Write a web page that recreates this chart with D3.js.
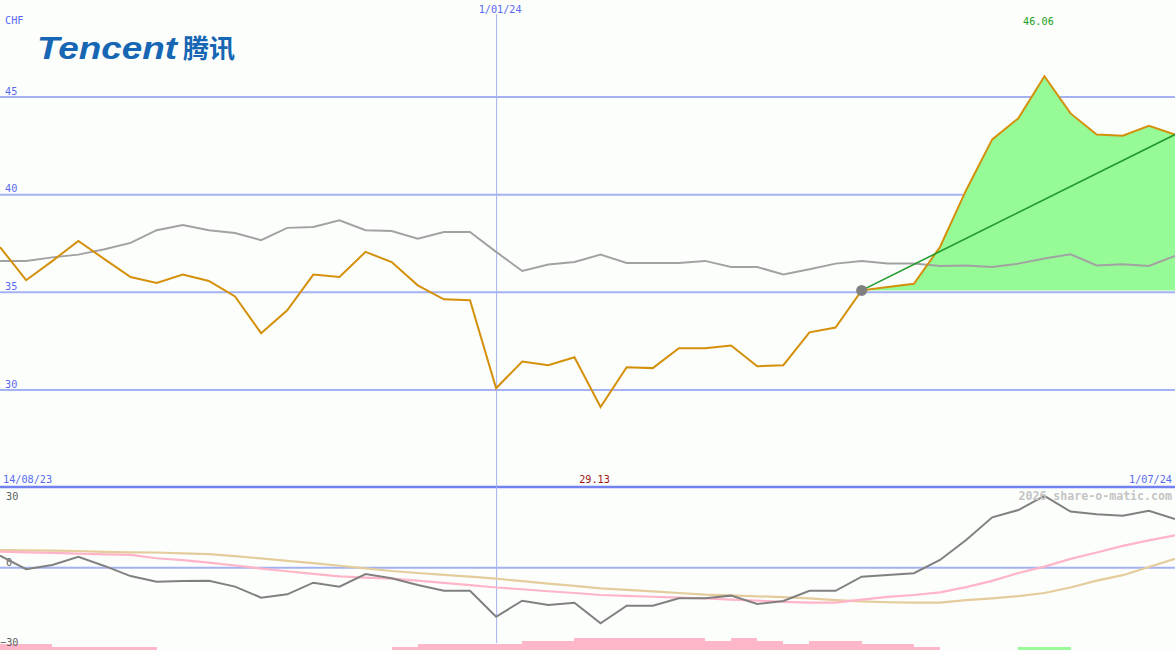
<!DOCTYPE html>
<html><head><meta charset="utf-8">
<script src="https://cdn.jsdelivr.net/npm/d3@7"></script>
<style>body{margin:0;background:#fcfefc;} svg{display:block}</style>
</head><body><svg id="c" width="1175" height="650"></svg>
<script>
// ---- data (weekly, 46 points from 14/08/23 to 1/07/24) ----
const startLabel = "14/08/23";
const endLabel = "1/07/24";
const markerIndex = 19;
const markerLabel = "1/01/24";
const currency = "CHF";
const priceTicks = [30, 35, 40, 45];
const oscTicks = [30, 0, -30];
const trendStart = 33;

const price = [37.32, 35.62, 36.6, 37.63, 36.7, 35.78, 35.48, 35.91, 35.58, 34.79,
  32.91, 34.08, 35.91, 35.79, 37.07, 36.55, 35.36, 34.64, 34.6, 30.09,
  31.46, 31.27, 31.68, 29.13, 31.17, 31.12, 32.14, 32.14, 32.28, 31.22,
  31.27, 32.95, 33.2, 35.1, 35.27, 35.44, 37.32, 40.23, 42.83, 43.91,
  46.06, 44.16, 43.08, 43.02, 43.53, 43.08];

const indexLine = [36.61, 36.61, 36.79, 36.93, 37.21, 37.53, 38.18, 38.45, 38.18, 38.04,
  37.67, 38.30, 38.35, 38.69, 38.18, 38.14, 37.75, 38.09, 38.09, 37.07,
  36.09, 36.42, 36.55, 36.93, 36.50, 36.50, 36.50, 36.61, 36.30, 36.30,
  35.91, 36.18, 36.47, 36.61, 36.47, 36.47, 36.35, 36.38, 36.30, 36.47,
  36.73, 36.95, 36.38, 36.44, 36.35, 36.86];

const relStrength = [5.5, -0.7, 1.2, 5.0, 0.8, -3.8, -6.4, -6.0, -5.9, -8.6,
  -13.6, -12.1, -6.8, -8.6, -2.9, -4.8, -7.9, -10.5, -10.5, -22.3,
  -15.0, -17.0, -15.9, -25.3, -17.3, -17.3, -13.9, -13.9, -12.7, -16.5,
  -15.1, -10.5, -10.5, -4.1, -3.3, -2.5, 3.5, 12.6, 22.9, 26.2,
  32.6, 25.5, 24.3, 23.6, 25.9, 22.1];

const avgFast = [7.3, 7.0, 6.7, 6.4, 6.1, 5.8, 4.3, 3.4, 2.3, 1.0,
  -0.4, -1.6, -2.8, -3.9, -4.5, -5.0, -5.9, -6.9, -7.9, -9.0,
  -9.8, -10.7, -11.5, -12.4, -12.8, -13.2, -13.6, -14.0, -14.5, -15.0,
  -15.5, -15.9, -15.9, -14.5, -13.3, -12.4, -11.2, -8.8, -6.0, -2.4,
  0.5, 4.0, 6.9, 9.9, 12.4, 14.7];

const avgSlow = [8.0, 7.9, 7.8, 7.6, 7.2, 7.0, 6.9, 6.5, 6.2, 5.3,
  4.2, 3.1, 2.1, 0.9, -0.3, -1.5, -2.4, -3.3, -4.1, -5.0,
  -6.1, -7.2, -8.3, -9.4, -10.1, -10.8, -11.5, -12.2, -12.6, -13.0,
  -13.4, -13.9, -14.7, -15.3, -15.7, -15.9, -15.9, -14.7, -13.9, -12.9,
  -11.5, -9.0, -5.9, -3.4, 0.3, 4.0];

// signed bar levels per weekly interval (negative = pink, positive = green)
const barLevels = [-2, -2, -1, -1, -1, -1, 0, 0, 0, 0, 0, 0, 0, 0, 0, -1, -2, -2, -2, -2,
  -3, -3, -4, -4, -4, -4, -4, -3, -4, -3, -2, -3, -3, -2, -2, -1, 0, 0, 0, 1, 1, 0, 0, 0, 0];

// ---- drawing ----
const W = 1175, H = 650;
const svg = d3.select("#c");
const mono = "'DejaVu Sans Mono', 'Liberation Mono', monospace";
const FS = 10.2;

const x = d3.scaleLinear().domain([0, price.length - 1]).range([0, W]);
const yTop = d3.scaleLinear().domain([30, 45]).range([390, 97]);
const yBot = d3.scaleLinear().domain([-30, 30]).range([633.7, 501.7]);
const barH = d3.scaleLinear().domain([0, 4]).range([0, 11.7]);

svg.append("rect").attr("width", W).attr("height", H).attr("fill", "#fcfefc");

// bottom bars
svg.append("g").attr("shape-rendering", "crispEdges").selectAll("rect").data(barLevels).join("rect")
  .attr("x", (d, i) => Math.round(x(i))).attr("width", (d, i) => Math.round(x(i + 1)) - Math.round(x(i)))
  .attr("y", d => H - barH(Math.abs(d))).attr("height", d => barH(Math.abs(d)))
  .attr("fill", d => d < 0 ? "#ffb6c8" : "#98fb98");

// price grid
const grid = svg.append("g");
grid.selectAll("line").data(priceTicks).join("line")
  .attr("x1", 0).attr("x2", W).attr("y1", d => yTop(d)).attr("y2", d => yTop(d))
  .attr("stroke", "#a4b2f4").attr("stroke-width", 2);
grid.selectAll("text").data(priceTicks).join("text")
  .attr("x", 5).attr("y", d => yTop(d) - 2.5).text(d => d)
  .attr("font-family", mono).attr("font-size", FS).attr("fill", "#5a6af0");
svg.append("text").attr("x", 5).attr("y", 24).text(currency)
  .attr("font-family", mono).attr("font-size", FS).attr("fill", "#5a6af0");

// bottom zero line + separator
svg.append("line").attr("x1", 0).attr("x2", W).attr("y1", yBot(0)).attr("y2", yBot(0))
  .attr("stroke", "#a4b2f4").attr("stroke-width", 2);
svg.append("line").attr("x1", 0).attr("x2", W).attr("y1", 487).attr("y2", 487)
  .attr("stroke", "#7282f0").attr("stroke-width", 2.5);

// marker vertical line
svg.append("line").attr("x1", x(markerIndex) + 0.5).attr("x2", x(markerIndex) + 0.5)
  .attr("y1", 14).attr("y2", 643).attr("stroke", "#a4b2f4").attr("stroke-width", 1);
svg.append("text").attr("x", x(markerIndex) + 4).attr("y", 13).attr("text-anchor", "middle")
  .text(markerLabel).attr("font-family", mono).attr("font-size", FS).attr("fill", "#5a6af0");

// oscillator tick labels
const oscLabelY = {"30": 499.5, "0": 565.5, "-30": 646};
svg.append("g").selectAll("text").data(oscTicks).join("text")
  .attr("x", d => d < 0 ? 0 : 6).attr("y", d => oscLabelY[String(d)]).text(d => d < 0 ? "\u221230" : d)
  .attr("font-family", mono).attr("font-size", FS).attr("fill", "#606060");

// green gain area
const idxAfter = d3.range(trendStart, price.length);
const base = price[trendStart];
svg.append("path").datum(idxAfter)
  .attr("d", d3.area().x(i => x(i)).y0(yTop(base)).y1(i => yTop(price[i])))
  .attr("fill", "#96fa96");

// index (gray) line
const idx = d3.range(price.length);
svg.append("path").datum(idx)
  .attr("d", d3.line().x(i => x(i)).y(i => yTop(indexLine[i])))
  .attr("fill", "none").attr("stroke", "#a2a2a2").attr("stroke-width", 2);

// price line
svg.append("path").datum(idx)
  .attr("d", d3.line().x(i => x(i)).y(i => yTop(price[i])))
  .attr("fill", "none").attr("stroke", "#d4900a").attr("stroke-width", 2);

// trend line
const last = price.length - 1;
svg.append("line").attr("x1", x(trendStart)).attr("y1", yTop(price[trendStart]))
  .attr("x2", x(last)).attr("y2", yTop(price[last]))
  .attr("stroke", "#22992a").attr("stroke-width", 1.6);
svg.append("circle").attr("cx", x(trendStart)).attr("cy", yTop(price[trendStart]))
  .attr("r", 5.5).attr("fill", "#808080");

// bottom oscillator lines
const bl = arr => d3.line().x(i => x(i)).y(i => yBot(arr[i]));
svg.append("path").datum(idx).attr("d", bl(avgSlow))
  .attr("fill", "none").attr("stroke", "#e4cc9c").attr("stroke-width", 2.2);
svg.append("path").datum(idx).attr("d", bl(avgFast))
  .attr("fill", "none").attr("stroke", "#ffb4c8").attr("stroke-width", 2.2);
svg.append("path").datum(idx).attr("d", bl(relStrength))
  .attr("fill", "none").attr("stroke", "#808080").attr("stroke-width", 2);

// max / min labels
const maxI = d3.maxIndex(price), minI = d3.minIndex(price);
svg.append("text").attr("x", x(maxI) - 6).attr("y", 25).attr("text-anchor", "middle")
  .text(price[maxI].toFixed(2)).attr("font-family", mono).attr("font-size", FS).attr("fill", "#22a022");
svg.append("text").attr("x", x(minI) - 6).attr("y", 483).attr("text-anchor", "middle")
  .text(price[minI].toFixed(2)).attr("font-family", mono).attr("font-size", FS).attr("fill", "#a01414");

// date labels
svg.append("text").attr("x", 3).attr("y", 483).text(startLabel)
  .attr("font-family", mono).attr("font-size", FS).attr("fill", "#5a6af0");
svg.append("text").attr("x", 1172).attr("y", 483).attr("text-anchor", "end").text(endLabel)
  .attr("font-family", mono).attr("font-size", FS).attr("fill", "#5a6af0");

// watermark
svg.append("text").attr("x", 1172).attr("y", 500).attr("text-anchor", "end")
  .text("2026 share-o-matic.com").attr("font-family", mono).attr("font-size", 11.6)
  .attr("font-weight", "bold").attr("fill", "#c4c4c4");

// logo
svg.append("text").attr("x", 37).attr("y", 59).text("Tencent")
  .attr("font-family", "'Liberation Sans', Arial, sans-serif").attr("font-size", 32)
  .attr("font-weight", "bold").attr("font-style", "italic").attr("fill", "#1666b4")
  .attr("textLength", 140).attr("lengthAdjust", "spacingAndGlyphs");
svg.append("text").attr("x", 183).attr("y", 58).text("腾讯")
  .attr("font-family", "'Noto Sans CJK SC', sans-serif").attr("font-size", 26)
  .attr("font-weight", "bold").attr("fill", "#1666b4")
  .attr("textLength", 52).attr("lengthAdjust", "spacingAndGlyphs");
</script></body></html>
